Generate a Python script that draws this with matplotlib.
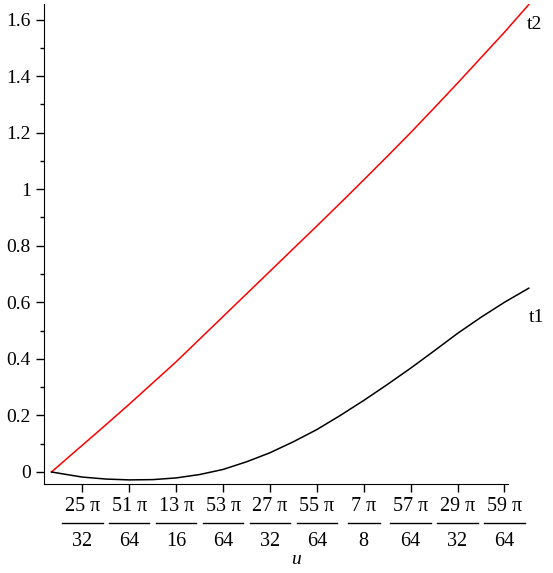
import matplotlib
matplotlib.use("Agg")
import matplotlib.pyplot as plt
import matplotlib.transforms as mtransforms
from matplotlib.lines import Line2D
import numpy as np

# u en unidades de pi/64
u_t2 = [49.34, 49.7, 50, 50.5, 51, 51.5, 52, 52.5, 53, 53.5, 54, 54.5, 55, 55.5,
        56, 56.5, 57, 57.5, 58, 58.5, 59, 59.52]
t2 = [0.0, 0.052, 0.095, 0.167, 0.240, 0.315, 0.390, 0.470, 0.550, 0.630, 0.710, 0.790,
      0.870, 0.951, 1.033, 1.116, 1.200, 1.287, 1.375, 1.465, 1.555, 1.653]

u_t1 = [49.34, 49.7, 50, 50.5, 51, 51.5, 52, 52.5, 53, 53.5, 54, 54.5, 55, 55.5,
        56, 56.5, 57, 57.5, 58, 58.5, 59, 59.52]
t1 = [0.0, -0.010, -0.018, -0.025, -0.028, -0.027, -0.021, -0.009, 0.009, 0.036,
      0.068, 0.107, 0.150, 0.200, 0.253, 0.309, 0.367, 0.428, 0.490, 0.547, 0.600, 0.650]

tick_num = [50, 51, 52, 53, 54, 55, 56, 57, 58, 59]
tick_top = ["25 π", "51 π", "13 π", "53 π", "27 π", "55 π", "7 π", "57 π", "29 π", "59 π"]
tick_bot = ["32", "64", "16", "64", "32", "64", "8", "64", "32", "64"]
y_ticks = [0, 0.2, 0.4, 0.6, 0.8, 1.0, 1.2, 1.4, 1.6]
y_lab = ["0", "0.2", "0.4", "0.6", "0.8", "1", "1.2", "1.4", "1.6"]

plt.rcParams['font.family'] = ['Liberation Serif', 'DejaVu Serif']

k = np.pi / 64
fig = plt.figure(figsize=(5.53, 5.73), dpi=100)
ax = fig.add_axes([44/553, 1 - 484/573, (548 - 44)/553, (484 - 4)/573])

ax.plot(np.array(u_t2) * k, t2, color='red', linewidth=1.1)
ax.plot(np.array(u_t1) * k, t1, color='black', linewidth=1.1)

ax.text(59.65 * k, 1.582, "t2", fontsize=14, ha='center', va='center')
ax.text(59.69 * k, 0.545, "t1", fontsize=14, ha='center', va='center')

ax.set_xlim(49.18 * k, 59.93 * k)
ax.set_ylim(-0.0425, 1.655)

ax.spines['top'].set_visible(False)
ax.spines['right'].set_visible(False)
ax.spines['bottom'].set_bounds(49.18 * k, 59.07 * k)

# etiquetas del eje x en forma de fraccion
ax.set_xticks(np.array(tick_num) * k)
ax.set_xticklabels([])
blend = mtransforms.blended_transform_factory(ax.transData, ax.transAxes)
bar_tr = blend + mtransforms.ScaledTranslation(0, -27.8 / 72, fig.dpi_scale_trans)
for n, top, bot in zip(tick_num, tick_top, tick_bot):
    x = n * k
    ax.annotate(top, xy=(x, 0), xycoords=('data', 'axes fraction'),
                xytext=(0, -16), textcoords='offset points',
                ha='center', va='center', fontsize=14.5, annotation_clip=False)
    ax.annotate(bot, xy=(x, 0), xycoords=('data', 'axes fraction'),
                xytext=(0, -41.5), textcoords='offset points',
                ha='center', va='center', fontsize=14.5, annotation_clip=False)
    half = 0.43 if len(bot) > 1 else 0.34
    ax.add_line(Line2D([x - half * k, x + half * k], [0, 0], transform=bar_tr,
                       color='black', linewidth=1.0, clip_on=False))

ax.set_yticks(y_ticks)
ax.set_yticklabels(y_lab, fontsize=14)
ax.set_yticks(np.arange(0.1, 1.65, 0.2), minor=True)
ax.tick_params(axis='both', which='major', direction='out', length=6, width=1)
ax.tick_params(axis='y', which='minor', length=3, width=1)

ax.annotate("u", xy=(0.5 * (49.18 + 59.93) * k, 0), xycoords=('data', 'axes fraction'),
            xytext=(0, -54.5), textcoords='offset points', ha='center', va='center',
            fontsize=14, style='italic', annotation_clip=False)

fig.savefig("out.png", dpi=100)
